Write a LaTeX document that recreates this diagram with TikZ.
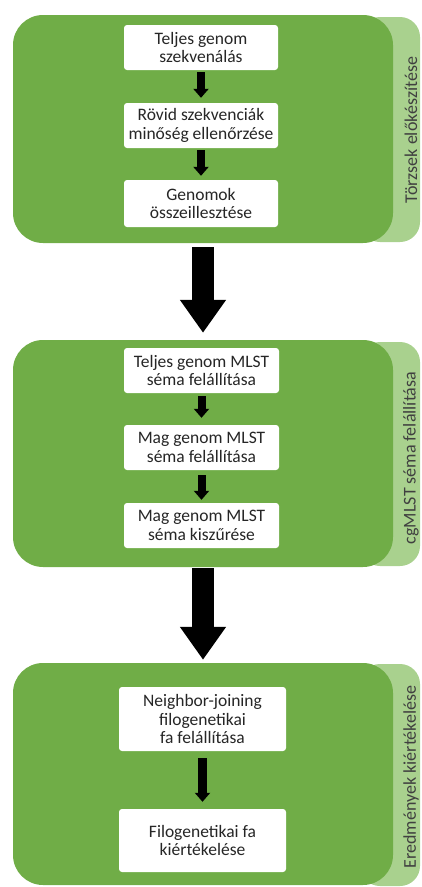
\documentclass[tikz,border=0pt]{standalone}
\usepackage{fontspec}
\setmainfont{Carlito}
\usetikzlibrary{arrows.meta}
\definecolor{dkgreen}{HTML}{70AD47}
\definecolor{ltgreen}{HTML}{A9D18E}
\definecolor{boxtext}{HTML}{262626}
\definecolor{labtext}{HTML}{404040}
\tikzset{
  panel/.style={fill=dkgreen, draw=none, rounded corners=30pt, minimum width=380pt, inner sep=0pt},
  strip/.style={fill=ltgreen, draw=none, rounded corners=20pt, minimum width=60pt, inner sep=0pt},
  stepbox/.style={fill=white, draw=none, rounded corners=3pt, align=center, inner sep=0pt,
    text=boxtext, font=\fontsize{17.5}{18.5}\selectfont},
  sidelabel/.style={rotate=90, text=labtext, font=\fontsize{18}{20}\selectfont, inner sep=0pt},
  bigarrow/.style={line width=22pt, -{Triangle[width=44pt,length=33pt]}, black},
  smallarrow/.style={line width=8pt, -{Triangle[width=15pt,length=9pt]}, black},
}
\begin{document}
\begin{tikzpicture}[x=1pt,y=-1pt]
\useasboundingbox (0,0) rectangle (422,887);
% panel 1
\node[strip, minimum height=225pt] (s1) at (390,129.5) {};
\node[panel, minimum height=228pt] (p1) at (203,129) {};
\node[sidelabel] (l1) at (411,130) {Törzsek előkészítése};
\node[stepbox, minimum width=154pt, minimum height=45pt] (a1) at (201,47.5) {Teljes genom\\szekvenálás};
\node[stepbox, minimum width=154pt, minimum height=45pt] (a2) at (201,125.5) {Rövid szekvenciák\\minőség ellenőrzése};
\node[stepbox, minimum width=154pt, minimum height=47pt] (a3) at (201,203.5) {Genomok\\összeillesztése};
\draw[smallarrow, shorten <=2pt, shorten >=5pt] (a1) -- (a2);
\draw[smallarrow, shorten <=2pt, shorten >=4pt] (a2) -- (a3);
% panel 2
\node[strip, minimum height=224pt] (s2) at (390,454) {};
\node[panel, minimum height=227pt] (p2) at (203,453.5) {};
\node[sidelabel] (l2) at (411,458) {cgMLST séma felállítása};
\node[stepbox, minimum width=155pt, minimum height=45pt] (b1) at (201.5,370.5) {Teljes genom MLST\\séma felállítása};
\node[stepbox, minimum width=155pt, minimum height=45pt] (b2) at (201.5,447.5) {Mag genom MLST\\séma felállítása};
\node[stepbox, minimum width=155pt, minimum height=45pt] (b3) at (201.5,525.5) {Mag genom MLST\\séma kiszűrése};
\draw[smallarrow, shorten <=3pt, shorten >=7pt] (b1) -- (b2);
\draw[smallarrow, shorten <=5pt, shorten >=3pt] (b2) -- (b3);
% panel 3
\node[strip, minimum height=222pt] (s3) at (390,775) {};
\node[panel, minimum height=222pt] (p3) at (203,774) {};
\node[sidelabel] (l3) at (411,777) {Eredmények kiértékelése};
\node[stepbox, minimum width=167pt, minimum height=64pt] (c1) at (202.5,719) {Neighbor-joining\\filogenetikai\\fa felállítása};
\node[stepbox, minimum width=167pt, minimum height=63pt] (c2) at (202.5,840.5) {Filogenetikai fa\\kiértékelése};
\draw[smallarrow, line width=9pt, shorten <=7pt, shorten >=7pt] (c1) -- (c2);
% big arrows
\draw[bigarrow] ([yshift=-4pt]p1.south) -- ([yshift=7pt]p2.north);
\draw[bigarrow] ([yshift=-1pt]p2.south) -- ([yshift=3pt]p3.north);
\end{tikzpicture}
\end{document}
